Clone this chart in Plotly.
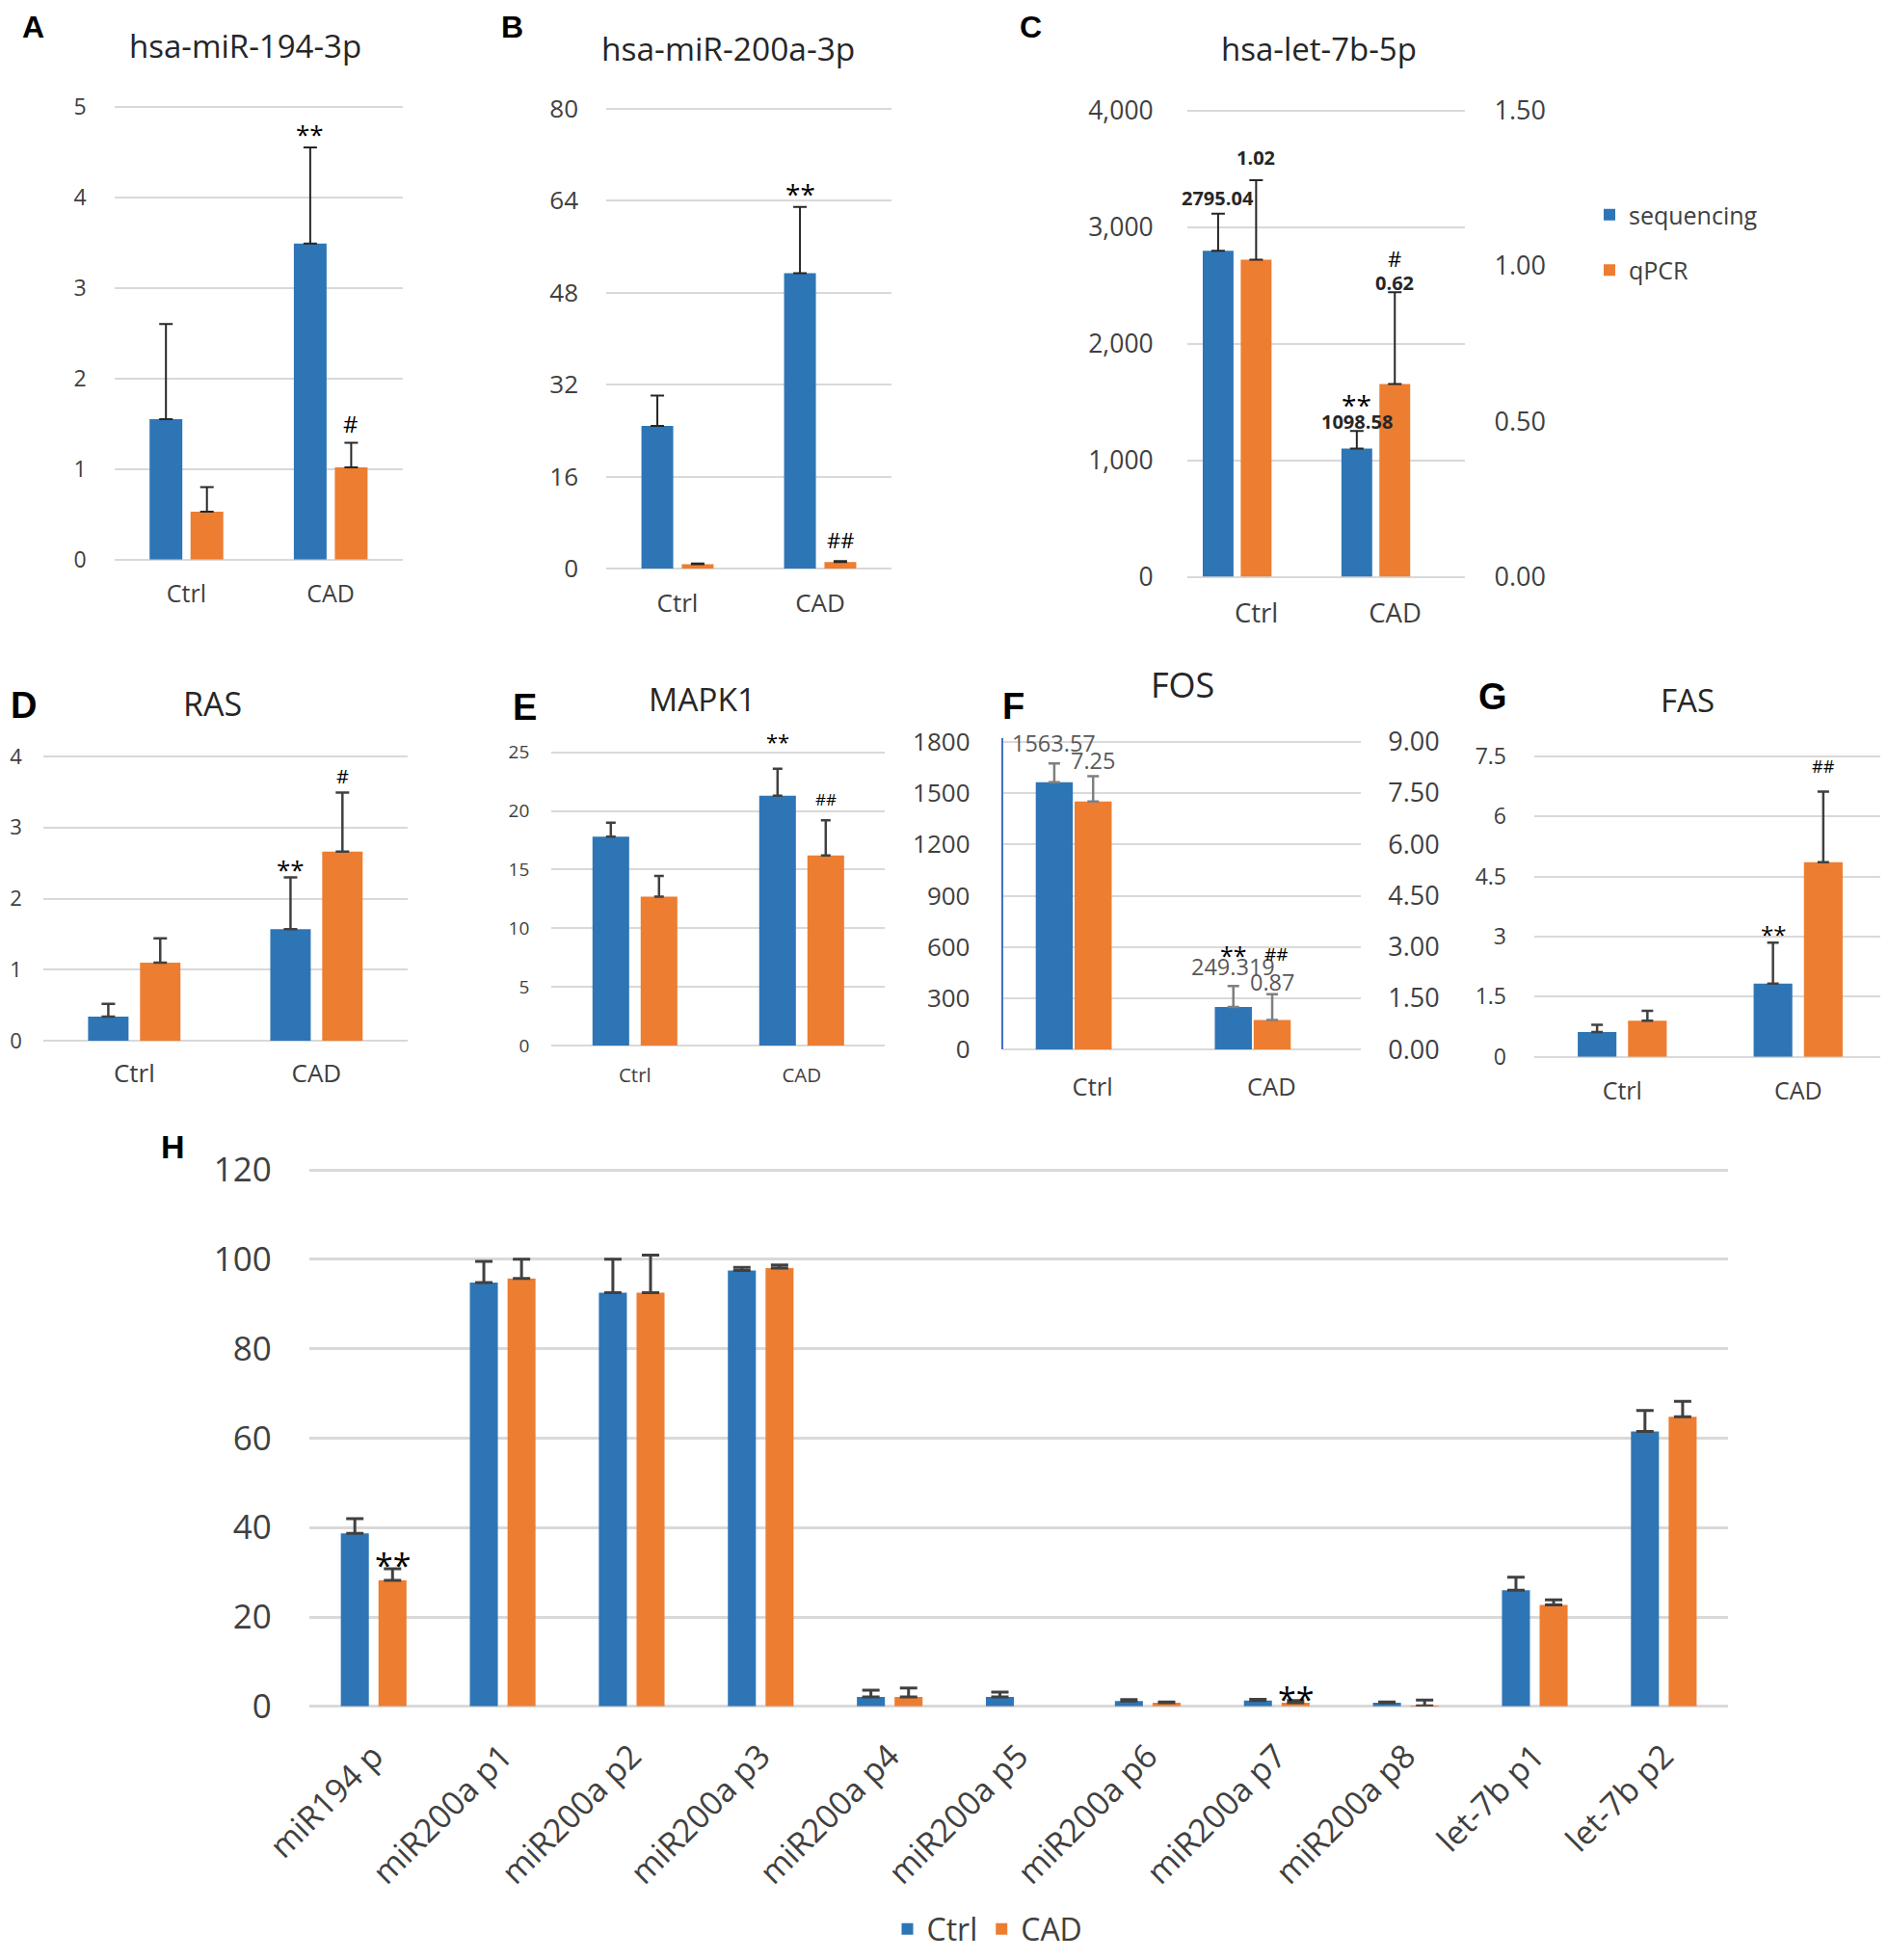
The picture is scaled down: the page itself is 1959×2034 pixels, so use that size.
import plotly.graph_objects as go

W, H = 1959, 2034          # browser window
OFF = 8                    # default page body margin
FW, FH = W - OFF, H - 2 * OFF
BLUE, ORANGE, GRID = "#2E75B6", "#ED7D31", "#D9D9D9"
TICK, TITLE = "#404040", "#262626"
FONT = "Open Sans, Noto Sans, sans-serif"
BOLDF = "Liberation Sans, Arial, sans-serif"

groups = ["Ctrl", "CAD"]

# ---------------- data ----------------
A_seq = [1.55, 3.49]; A_seq_err = [1.05, 1.06]
A_qpcr = [0.53, 1.02]; A_qpcr_err = [0.27, 0.27]

B_seq = [24.8, 51.4]; B_seq_err = [5.3, 11.5]
B_qpcr = [0.77, 1.12]; B_qpcr_err = [0.13, 0.18]

C_seq = [2795.04, 1098.58]; C_seq_err = [318, 151]
C_qpcr = [1.02, 0.62]; C_qpcr_err = [0.255, 0.295]

D_seq = [0.34, 1.57]; D_seq_err = [0.18, 0.73]
D_qpcr = [1.10, 2.66]; D_qpcr_err = [0.34, 0.83]

E_seq = [17.8, 21.3]; E_seq_err = [1.2, 2.3]
E_qpcr = [12.7, 16.2]; E_qpcr_err = [1.75, 3.0]

F_seq = [1563.57, 249.319]; F_seq_err = [109, 122]
F_qpcr = [7.25, 0.87]; F_qpcr_err = [0.74, 0.75]

G_seq = [0.62, 1.83]; G_seq_err = [0.18, 1.02]
G_qpcr = [0.90, 4.86]; G_qpcr_err = [0.25, 1.76]

H_cats = ["miR194 p", "miR200a p1", "miR200a p2", "miR200a p3", "miR200a p4",
          "miR200a p5", "miR200a p6", "miR200a p7", "miR200a p8", "let-7b p1", "let-7b p2"]
H_ctrl = [38.7, 94.8, 92.5, 97.5, 2.1, 2.1, 1.2, 1.3, 0.8, 26.0, 61.5]
H_ctrl_err = [3.3, 4.7, 7.5, 0.7, 1.5, 1.1, 0.3, 0.3, 0.2, 2.9, 4.7]
H_cad = [28.2, 95.7, 92.5, 98.0, 2.1, None, 0.8, 0.8, 0.1, 22.7, 64.8]
H_cad_err = [2.6, 4.3, 8.4, 0.7, 2.0, None, 0.2, 0.5, 1.3, 1.1, 3.4]

# ---------------- helpers ----------------
def fx(p): return (p - OFF) / FW
def fy(p): return 1 - (p - OFF) / FH

PAD = 4  # px of headroom so the top gridline is not clipped

fig = go.Figure()
layout = {}
annotations = []

def axname(letter, n):
    return f"{letter}axis" if n == 1 else f"{letter}axis{n}"

def ref(letter, n):
    return letter if n == 1 else f"{letter}{n}"

def padded(yrange, yd):
    span = yd[1] - yd[0]
    return [yrange[0], yrange[1] + (yrange[1] - yrange[0]) * PAD / span]

def setup(nx, ny, xd, yd, yrange, dtick, yfs, xfs, ystand, xstand, ncat=2,
          tickformat=None, gridw=2, tickangle=0):
    layout[axname("x", nx)] = dict(
        domain=[fx(xd[0]), min(fx(xd[1]), 1)], anchor=ref("y", ny), type="category",
        range=[-0.5, ncat - 0.5], showgrid=False, zeroline=False, showline=False,
        ticks="", tickangle=tickangle, ticklabelstandoff=xstand, automargin=False,
        tickfont=dict(family=FONT, size=xfs, color=TICK), fixedrange=True)
    ya = dict(
        domain=[fy(yd[1]), fy(yd[0] - PAD)], anchor=ref("x", nx), range=padded(yrange, yd),
        dtick=dtick, tick0=0, showgrid=True, gridcolor=GRID, gridwidth=gridw,
        zeroline=True, zerolinecolor=GRID, zerolinewidth=gridw, showline=False,
        ticks="", ticklabelstandoff=ystand, automargin=False,
        tickfont=dict(family=FONT, size=yfs, color=TICK), fixedrange=True)
    if tickformat:
        ya["tickformat"] = tickformat
    layout[axname("y", ny)] = ya

def right_axis(ny, over, nx, yrange, yd, dtick, yfs, ystand, tickformat):
    layout[axname("y", ny)] = dict(
        overlaying=ref("y", over), side="right", anchor=ref("x", nx),
        range=padded(yrange, yd), dtick=dtick, tick0=0, showgrid=False,
        zeroline=False, showline=False, ticks="", ticklabelstandoff=ystand,
        tickformat=tickformat, automargin=False,
        tickfont=dict(family=FONT, size=yfs, color=TICK), fixedrange=True)

def bars(nx, ny, cats, vals, errs, color, width, offset, ecol, eth, ecap,
         name, legend=None, group=None):
    fig.add_trace(go.Bar(
        x=cats, y=vals, width=width, offset=offset,
        marker=dict(color=color, line=dict(width=0)),
        error_y=dict(type="data", symmetric=False, array=errs,
                     arrayminus=[0] * len(errs), color=ecol, thickness=eth, width=ecap),
        xaxis=ref("x", nx), yaxis=ref("y", ny), name=name,
        showlegend=legend is not None, legend=legend or "legend",
        legendgroup=group, hoverinfo="skip"))

def note(nx, ny, cats, vals, errs, i, text, catpx, offset, width, gap, size,
         color="#000000", bold=False, xadj=0):
    top = vals[i] + errs[i]
    annotations.append(dict(
        x=cats[i], y=top, xref=ref("x", nx), yref=ref("y", ny),
        text=f"<b>{text}</b>" if bold else text, showarrow=False,
        xanchor="center", yanchor="middle",
        xshift=(offset + width / 2) * catpx + xadj, yshift=gap,
        font=dict(family=FONT, size=size, color=color)))

def label(x, y, text, size, bold=False, family=FONT, color=TITLE, top=False):
    annotations.append(dict(
        x=fx(x), y=1.0 if top else fy(y), xref="paper", yref="paper", showarrow=False,
        text=f"<b>{text}</b>" if bold else text, xanchor="center",
        yanchor="top" if top else "middle",
        font=dict(family=family, size=size, color=color)))

EC = "#262626"
EC2 = "#404040"

# ---------------- Panel A ----------------
xd, yd = (118.6, 418), (110.7, 580.8)
cp = (xd[1] - xd[0]) / 2
w, g = 0.227, 0.057
ob, oo = -w - g / 2, g / 2
setup(1, 1, xd, yd, (0, 5), 1, 23, 25, 28, 18)
bars(1, 1, groups, A_seq, A_seq_err, BLUE, w, ob, EC, 2, 7, "sequencing")
bars(1, 1, groups, A_qpcr, A_qpcr_err, ORANGE, w, oo, EC, 2, 7, "qPCR")
note(1, 1, groups, A_seq, A_seq_err, 1, "**", cp, ob, w, 14, 26)
note(1, 1, groups, A_qpcr, A_qpcr_err, 1, "#", cp, oo, w, 20, 24)
label(254, 48, "hsa-miR-194-3p", 33)
label(34.5, 0, "A", 32, bold=True, family=BOLDF, color="#000000", top=True)

# ---------------- Panel B ----------------
xd, yd = (629, 925), (112.8, 590)
cp = (xd[1] - xd[0]) / 2
w, g = 0.223, 0.06
ob, oo = -w - g / 2, g / 2
setup(2, 2, xd, yd, (0, 80), 16, 26, 26, 28, 18)
bars(2, 2, groups, B_seq, B_seq_err, BLUE, w, ob, EC, 2, 7, "sequencing")
bars(2, 2, groups, B_qpcr, B_qpcr_err, ORANGE, w, oo, EC, 2, 7, "qPCR")
note(2, 2, groups, B_seq, B_seq_err, 1, "**", cp, ob, w, 14, 28)
note(2, 2, groups, B_qpcr, B_qpcr_err, 1, "##", cp, oo, w, 22, 22)
label(755, 50, "hsa-miR-200a-3p", 33.5)
label(531, 0, "B", 32, bold=True, family=BOLDF, color="#000000", top=True)

# ---------------- Panel C ----------------
xd, yd = (1231.7, 1519.5), (114.5, 598.5)
cp = (xd[1] - xd[0]) / 2
w = 0.222
ob, oo = -0.387, -0.113
setup(3, 3, xd, yd, (0, 4000), 1000, 26.5, 27.5, 34, 19, tickformat=",d")
right_axis(4, 3, 3, (0, 1.5), yd, 0.5, 27, 30, ".2f")
bars(3, 3, groups, C_seq, C_seq_err, BLUE, w, ob, EC, 2, 7, "sequencing", legend="legend", group="seq")
bars(3, 4, groups, C_qpcr, C_qpcr_err, ORANGE, w, oo, EC, 2, 7, "qPCR", legend="legend", group="qpcr")
for i, gap in enumerate([16, 10]):
    note(3, 3, groups, C_seq, C_seq_err, i, str(C_seq[i]), cp, ob, w, gap, 20, color=EC, bold=True)
for i, gap in enumerate([24, 10]):
    note(3, 4, groups, C_qpcr, C_qpcr_err, i, str(C_qpcr[i]), cp, oo, w, gap, 20, color=EC, bold=True)
note(3, 3, groups, C_seq, C_seq_err, 1, "**", cp, ob, w, 27, 28)
note(3, 4, groups, C_qpcr, C_qpcr_err, 1, "#", cp, oo, w, 35, 22)
label(1368, 50.5, "hsa-let-7b-5p", 33)
label(1069.5, 0, "C", 32, bold=True, family=BOLDF, color="#000000", top=True)

# ---------------- Panel D ----------------
xd, yd = (44.8, 422.9), (785, 1080)
cp = (xd[1] - xd[0]) / 2
w, g = 0.222, 0.063
ob, oo = -w - g / 2, g / 2
setup(4, 5, xd, yd, (0, 4), 1, 22, 26, 21, 16)
bars(4, 5, groups, D_seq, D_seq_err, BLUE, w, ob, EC2, 2.5, 7, "sequencing")
bars(4, 5, groups, D_qpcr, D_qpcr_err, ORANGE, w, oo, EC2, 2.5, 7, "qPCR")
note(4, 5, groups, D_seq, D_seq_err, 1, "**", cp, ob, w, 8, 26)
note(4, 5, groups, D_qpcr, D_qpcr_err, 1, "#", cp, oo, w, 17, 20)
label(220, 730, "RAS", 34)
label(24, 731.5, "D", 38, bold=True, family=BOLDF, color="#000000")

# ---------------- Panel E ----------------
xd, yd = (572.3, 918.3), (780.7, 1085)
cp = (xd[1] - xd[0]) / 2
w, g = 0.22, 0.069
ob, oo = -w - g / 2, g / 2
setup(5, 6, xd, yd, (0, 25), 5, 19, 20.5, 22, 16)
bars(5, 6, groups, E_seq, E_seq_err, BLUE, w, ob, EC2, 2.5, 5, "sequencing")
bars(5, 6, groups, E_qpcr, E_qpcr_err, ORANGE, w, oo, EC2, 2.5, 5, "qPCR")
note(5, 6, groups, E_seq, E_seq_err, 1, "**", cp, ob, w, 29, 22)
note(5, 6, groups, E_qpcr, E_qpcr_err, 1, "##", cp, oo, w, 22, 17)
label(728, 725, "MAPK1", 33.5)
label(544, 734, "E", 38, bold=True, family=BOLDF, color="#000000")

# ---------------- Panel F ----------------
xd, yd = (1040.7, 1412.3), (769.7, 1089.3)
cp = (xd[1] - xd[0]) / 2
w = 0.207
ob, oo = -0.317, -0.1
setup(6, 7, xd, yd, (0, 1800), 300, 26, 25.5, 27, 21)
layout["yaxis7"].update(showline=True, linecolor="#4472C4", linewidth=2)
right_axis(8, 7, 6, (0, 9), yd, 1.5, 27, 27, ".2f")
FC = "#7F7F7F"
bars(6, 7, groups, F_seq, F_seq_err, BLUE, w, ob, FC, 2.5, 6, "sequencing")
bars(6, 8, groups, F_qpcr, F_qpcr_err, ORANGE, w, oo, FC, 2.5, 6, "qPCR")
for i, gap in enumerate([21, 20]):
    note(6, 7, groups, F_seq, F_seq_err, i, str(F_seq[i]), cp, ob, w, gap, 23.5, color="#595959")
for i, gap in enumerate([17, 13]):
    note(6, 8, groups, F_qpcr, F_qpcr_err, i, str(F_qpcr[i]), cp, oo, w, gap, 23.5, color="#595959")
note(6, 7, groups, F_seq, F_seq_err, 1, "**", cp, ob, w, 32, 25)
note(6, 8, groups, F_qpcr, F_qpcr_err, 1, "##", cp, oo, w, 42, 19, xadj=4)
label(1226.7, 710, "FOS", 36)
label(1051, 732.5, "F", 38, bold=True, family=BOLDF, color="#000000")

# ---------------- Panel G ----------------
xd, yd = (1592, 1957), (785, 1096.7)
cp = (xd[1] - xd[0]) / 2
w, g = 0.22, 0.066
ob, oo = -w - g / 2, g / 2
setup(7, 9, xd, yd, (0, 7.5), 1.5, 23, 25, 28, 18)
bars(7, 9, groups, G_seq, G_seq_err, BLUE, w, ob, EC2, 2.5, 6, "sequencing")
bars(7, 9, groups, G_qpcr, G_qpcr_err, ORANGE, w, oo, EC2, 2.5, 6, "qPCR")
note(7, 9, groups, G_seq, G_seq_err, 1, "**", cp, ob, w, 9, 24)
note(7, 9, groups, G_qpcr, G_qpcr_err, 1, "##", cp, oo, w, 27, 18)
label(1750.7, 726.7, "FAS", 33)
label(1549, 723.3, "G", 38, bold=True, family=BOLDF, color="#000000")

# ---------------- Panel H ----------------
xd, yd = (320.8, 1793.3), (1214, 1770.8)
cp = (xd[1] - xd[0]) / len(H_cats)
w, g = 0.217, 0.075
ob, oo = -w - g / 2, g / 2
setup(8, 10, xd, yd, (0, 120), 20, 35, 34, 38, 24, ncat=len(H_cats), gridw=2.5, tickangle=-45)
bars(8, 10, H_cats, H_ctrl, H_ctrl_err, BLUE, w, ob, EC2, 3, 9, "Ctrl", legend="legend2", group="ctrl")
bars(8, 10, H_cats, H_cad, H_cad_err, ORANGE, w, oo, EC2, 3, 9, "CAD", legend="legend2", group="cad")
note(8, 10, H_cats, H_cad, H_cad_err, 0, "**", cp, oo, w, 4, 34)
note(8, 10, H_cats, H_cad, H_cad_err, 7, "**", cp, oo, w, 2, 34)
label(179, 1190, "H", 34, bold=True, family=BOLDF, color="#000000")

layout.update(
    width=FW, height=FH, margin=dict(l=0, r=0, t=0, b=0, autoexpand=False),
    paper_bgcolor="white", plot_bgcolor="white", barmode="overlay",
    font=dict(family=FONT, color=TICK),
    annotations=annotations,
    legend=dict(x=fx(1650), y=fy(200), xanchor="left", yanchor="top",
                bgcolor="rgba(0,0,0,0)", tracegroupgap=22, itemwidth=30,
                font=dict(family=FONT, size=25, color=TICK)),
    legend2=dict(orientation="h", x=fx(1025), xanchor="center", y=fy(2002),
                 yanchor="middle", bgcolor="rgba(0,0,0,0)", itemwidth=30,
                 font=dict(family=FONT, size=32, color=TICK)),
)
fig.update_layout(**layout)
fig.write_html("out.html", config={"displayModeBar": False})
